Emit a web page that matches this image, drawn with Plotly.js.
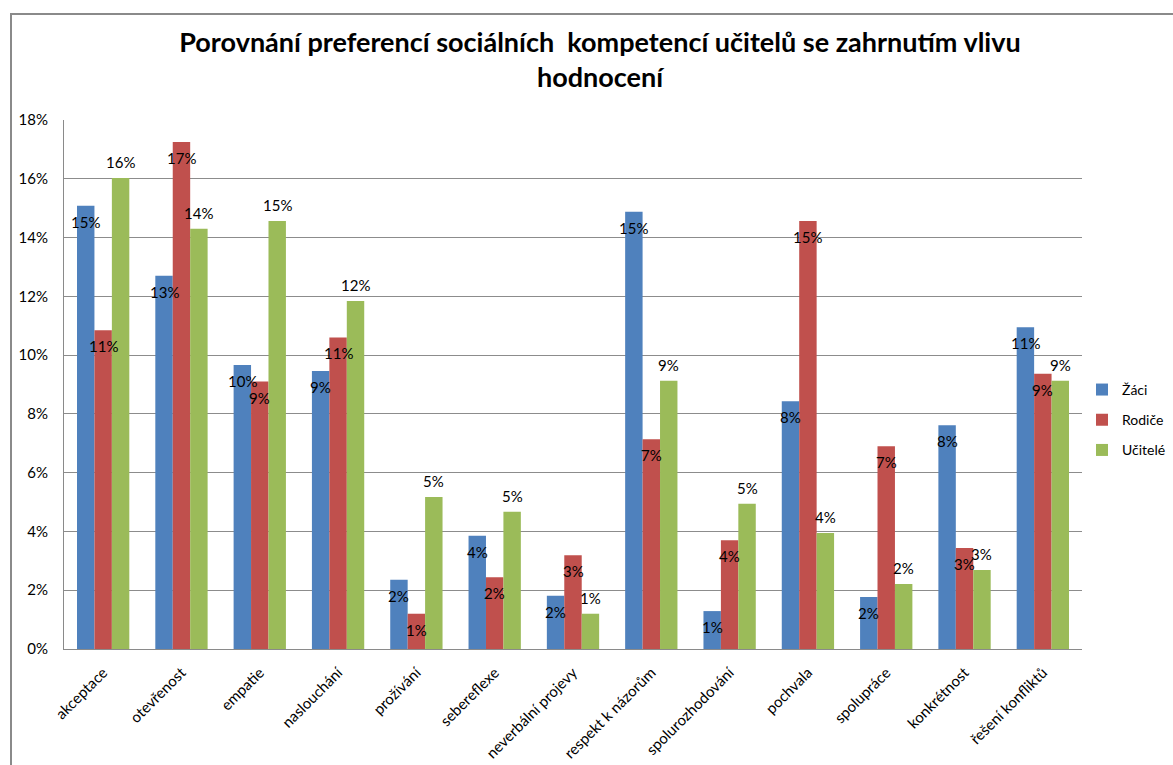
<!DOCTYPE html>
<html>
<head>
<meta charset="utf-8">
<script src="https://cdn.plot.ly/plotly-3.0.1.min.js"></script>
<style>
  html, body { margin: 0; padding: 0; background: #ffffff; }
  #frame { position: absolute; left: 10px; top: 13px; width: 1400px; height: 1000px;
           border-left: 2px solid #8a8a8a; border-top: 2px solid #8a8a8a; }
  #chart { position: absolute; left: 0; top: 0; width: 1173px; height: 765px; }
</style>
</head>
<body>
<div id="frame"></div>
<div id="chart"></div>
<script>
// ---- data (percent) ----
const categories = ["akceptace", "otevřenost", "empatie", "naslouchání", "prožívání",
  "sebereflexe", "neverbální projevy", "respekt k názorům", "spolurozhodování",
  "pochvala", "spolupráce", "konkrétnost", "řešení konfliktů"];
const zaci    = [15.08, 12.70, 9.66, 9.46, 2.36, 3.85, 1.81, 14.88, 1.29, 8.43, 1.77, 7.61, 10.95];
const rodice  = [10.85, 17.25, 9.10, 10.60, 1.20, 2.44, 3.19, 7.14, 3.70, 14.56, 6.90, 3.44, 9.37];
const ucitele = [16.03, 14.30, 14.56, 11.84, 5.17, 4.67, 1.20, 9.13, 4.94, 3.95, 2.21, 2.69, 9.13];
const seriesNames = ["Žáci", "Rodiče", "Učitelé"];
const yTicks = [0, 2, 4, 6, 8, 10, 12, 14, 16, 18];
const titleText = "Porovnání preferencí sociálních  kompetencí učitelů se zahrnutím vlivu<br>hodnocení";

// ---- style / layout constants ----
const colors = ["#4F81BD", "#C0504D", "#9BBB59"];
const W = 1173, H = 765;
const mL = 64, mR = 91, mT = 120, mB = 116;
const plotW = W - mL - mR;
const bargap = 0.332;
const FONT = "Lato, 'Open Sans', sans-serif";
const LBL = 15;

const allSeries = [zaci, rodice, ucitele];
const traces = allSeries.map((vals, i) => ({
  type: "bar",
  name: seriesNames[i],
  x: categories,
  y: vals,
  marker: { color: colors[i], line: { width: 0 } },
  legendgroup: "g" + i,
  hoverinfo: "x+y+name"
}));

// data labels: first two series inside end, third above
const catW = plotW / categories.length;
const barW = catW * (1 - bargap) / 3;
const annotations = [];
allSeries.forEach((vals, i) => {
  vals.forEach((v, j) => {
    annotations.push({
      x: categories[j], y: v, xref: "x", yref: "y",
      text: Math.round(v) + "%",
      showarrow: false,
      xshift: (i - 1) * barW,
      yshift: i === 2 ? 16 : -16,
      xanchor: "center", yanchor: "middle",
      font: { family: FONT, size: LBL, color: "#000000" }
    });
  });
});

const layout = {
  width: W, height: H,
  margin: { l: mL, r: mR, t: mT, b: mB, pad: 0, autoexpand: false },
  paper_bgcolor: "rgba(0,0,0,0)",
  plot_bgcolor: "#ffffff",
  barmode: "group",
  bargap: bargap,
  bargroupgap: 0,
  title: {
    text: titleText,
    font: { family: FONT, size: 27, color: "#000000", weight: "bold" },
    x: 600 / W, xref: "container", xanchor: "center",
    y: 1 - 52 / H, yref: "container", yanchor: "top"
  },
  xaxis: {
    type: "category",
    tickangle: -45,
    tickfont: { family: FONT, size: LBL, color: "#000000" },
    showline: true, linecolor: "#8a8a8a", linewidth: 1,
    ticks: "outside", ticklen: 8, tickcolor: "rgba(0,0,0,0)",
    showgrid: false, zeroline: false, fixedrange: true
  },
  yaxis: {
    range: [0, 18],
    tickvals: yTicks,
    ticktext: yTicks.map(t => t + "%"),
    tickfont: { family: FONT, size: LBL, color: "#000000" },
    showline: true, linecolor: "#8a8a8a", linewidth: 1,
    showgrid: true, gridcolor: "#8c8c8c", gridwidth: 1,
    ticks: "outside", ticklen: 12, tickcolor: "rgba(0,0,0,0)",
    zeroline: false, fixedrange: true
  },
  legend: {
    x: 1.0, xanchor: "left",
    y: 0.433, yanchor: "middle",
    font: { family: FONT, size: 14, color: "#000000" },
    bgcolor: "rgba(0,0,0,0)",
    traceorder: "grouped",
    tracegroupgap: 9
  },
  annotations: annotations,
  showlegend: true
};

Plotly.newPlot("chart", traces, layout, { displayModeBar: false, staticPlot: true });
</script>
</body>
</html>
